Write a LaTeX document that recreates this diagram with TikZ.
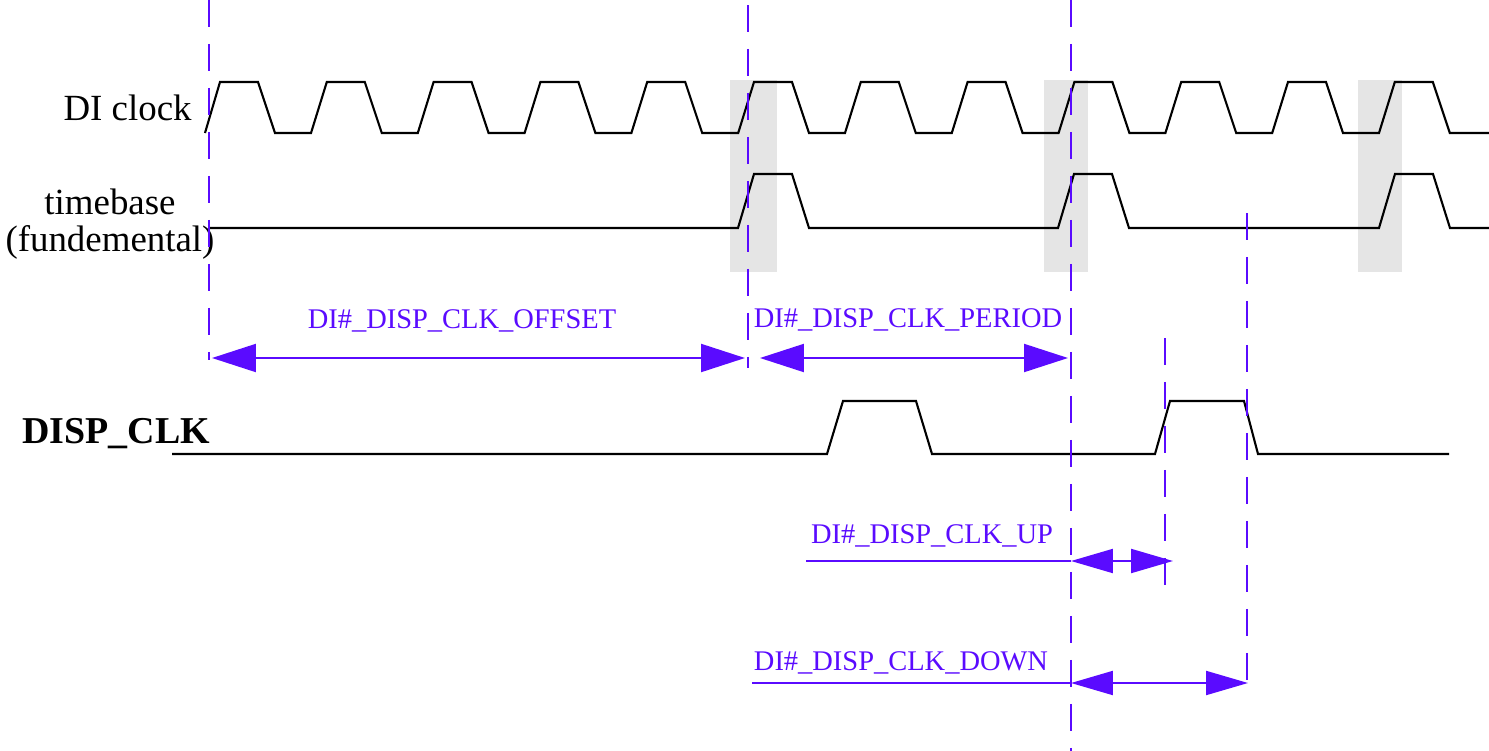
\documentclass[tikz,border=0pt]{standalone}
\usepackage{fontspec}
\setmainfont{Liberation Serif}
\usetikzlibrary{arrows.meta}
\definecolor{dimblue}{HTML}{5A0BFF}
\definecolor{wingray}{HTML}{E5E5E5}

\begin{document}
\begin{tikzpicture}[x=0.02cm,y=-0.02cm,
 wave/.style={line width=1.2pt,line join=miter},
 guide/.style={draw=dimblue,line width=1.2pt,dash pattern=on 0.54cm off 0.34cm},
 spanarrow/.style={draw=dimblue,line width=1.2pt,{Triangle[length=0.88cm,width=0.56cm]}-{Triangle[length=0.88cm,width=0.56cm]}},
 edgearrow/.style={draw=dimblue,line width=1.2pt,{Triangle[length=0.84cm,width=0.48cm]}-{Triangle[length=0.84cm,width=0.48cm]}},
 lbl/.style={font=\fontsize{21}{21}\selectfont,inner sep=0pt},
 tag/.style={font=\fontsize{16.2}{16.2}\selectfont,text=dimblue,inner sep=0pt}]
\useasboundingbox (0,0) rectangle (1489,751);
% sampling windows
\fill[wingray] (730,80) rectangle (777,272);
\fill[wingray] (1044,80) rectangle (1088,272);
\fill[wingray] (1358,80) rectangle (1402,272);
% signals
\node[lbl,anchor=base east] (clk) at (192,120) {DI clock};
\node[lbl,align=center] (tb) at (110,224) {timebase\\(fundemental)};
\node[lbl,anchor=base west,font=\fontsize{21.6}{21.6}\selectfont\bfseries] (dclk) at (22,443) {DISP\_CLK};
\draw[wave] (205,133) \foreach \k in {0,...,11} {-- (220+106.8*\k,82) -- (258+106.8*\k,82) -- (275+106.8*\k,133) -- (311+106.8*\k,133)} -- (1489,133);
\draw[wave] (210,228) -- (738,228) -- (754,174) -- (792,174) -- (809,228) -- (1058,228) -- (1074,174) -- (1112,174) -- (1129,228) -- (1379,228) -- (1395,174) -- (1433,174) -- (1450,228) -- (1489,228);
\draw[wave] (172,454) -- (827,454) -- (843,401) -- (916,401) -- (932,454) -- (1155,454) -- (1170,401) -- (1244,401) -- (1258,454) -- (1449,454);
% markers
\draw[guide] (209,0) -- (209,360);
\draw[guide] (748,5) -- (748,368);
\draw[guide] (1071,0) -- (1071,751);
\draw[guide] (1165,338) -- (1165,585);
\draw[guide] (1247,213) -- (1247,688);
% spans
\coordinate (a0) at (212,358);
\coordinate (a1) at (745,358);
\coordinate (b0) at (760,358);
\coordinate (b1) at (1068,358);
\coordinate (u0) at (806,561);
\coordinate (u1) at (1071,561);
\coordinate (u2) at (1173,561);
\coordinate (d0) at (752,683);
\coordinate (d1) at (1071,683);
\coordinate (d2) at (1248,683);
\draw[spanarrow] (a0) -- (a1);
\draw[spanarrow] (b0) -- (b1);
\draw[dimblue,line width=1.2pt] (u0) -- (u1);
\draw[edgearrow] (u1) -- (u2);
\draw[dimblue,line width=1.2pt] (d0) -- (d1);
\draw[edgearrow] (d1) -- (d2);
\node[tag,anchor=base] (offlbl) at (462,328) {DI\#\_DISP\_CLK\_OFFSET};
\node[tag,anchor=base] (perlbl) at (908,327) {DI\#\_DISP\_CLK\_PERIOD};
\node[tag,anchor=base] (uplbl) at (932,543) {DI\#\_DISP\_CLK\_UP};
\node[tag,anchor=base] (dnlbl) at (901,670) {DI\#\_DISP\_CLK\_DOWN};
\end{tikzpicture}
\end{document}
